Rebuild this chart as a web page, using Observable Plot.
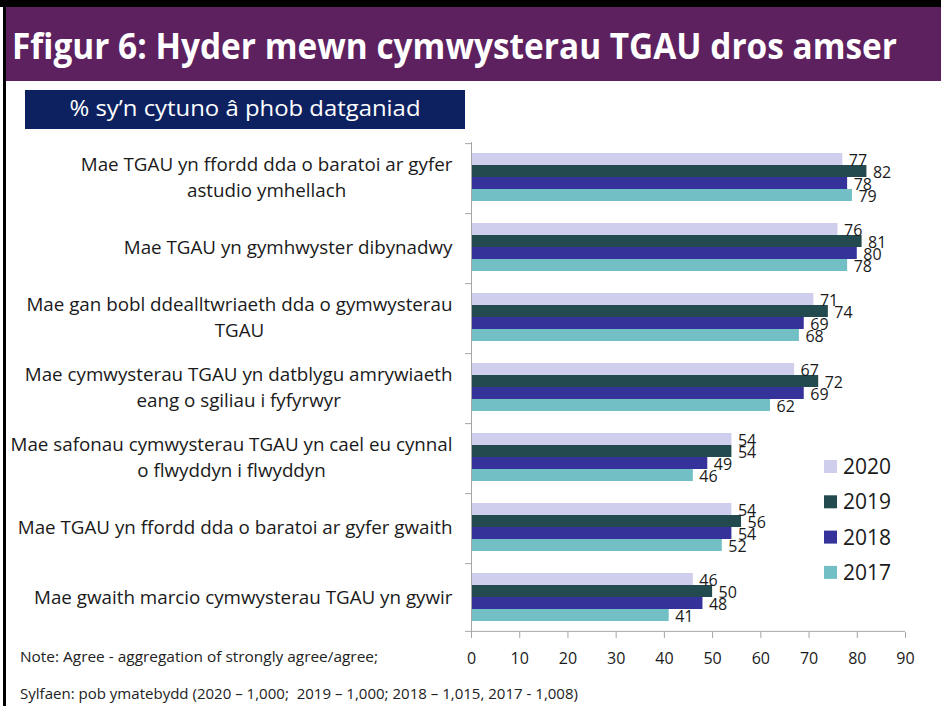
<!DOCTYPE html>
<html>
<head>
<meta charset="utf-8">
<script src="https://cdn.jsdelivr.net/npm/d3@7"></script>
<script src="https://cdn.jsdelivr.net/npm/@observablehq/plot@0.6"></script>
<style>
  html, body { margin: 0; padding: 0; background: #fff; }
  #page { position: relative; width: 941px; height: 706px; overflow: hidden; font-family: "Open Sans", sans-serif; }
  #chart { position: absolute; left: 0; top: 130px; }
  #overlay { position: absolute; left: 0; top: 0; pointer-events: none; }
  #overlay text { white-space: pre; }
</style>
</head>
<body>
<div id="page">
  <div id="chart"></div>
  <svg id="overlay" width="941" height="706"></svg>
</div>
<script>
// ---------- data ----------
const titleText = "Ffigur 6: Hyder mewn cymwysterau TGAU dros amser";
const subtitleText = "% sy’n cytuno â phob datganiad";
const noteText = "Note: Agree - aggregation of strongly agree/agree;";
const sourceText = "Sylfaen: pob ymatebydd (2020 – 1,000;  2019 – 1,000; 2018 – 1,015, 2017 - 1,008)";

const categories = [
  "Mae TGAU yn ffordd dda o baratoi ar gyfer\nastudio ymhellach",
  "Mae TGAU yn gymhwyster dibynadwy",
  "Mae gan bobl ddealltwriaeth dda o gymwysterau\nTGAU",
  "Mae cymwysterau TGAU yn datblygu amrywiaeth\neang o sgiliau i fyfyrwyr",
  "Mae safonau cymwysterau TGAU yn cael eu cynnal\no flwyddyn i flwyddyn",
  "Mae TGAU yn ffordd dda o baratoi ar gyfer gwaith",
  "Mae gwaith marcio cymwysterau TGAU yn gywir"
];
const years = ["2020", "2019", "2018", "2017"];
const values2020 = [77, 76, 71, 67, 54, 54, 46];
const values2019 = [82, 81, 74, 72, 54, 56, 50];
const values2018 = [78, 80, 69, 69, 49, 54, 48];
const values2017 = [79, 78, 68, 62, 46, 52, 41];
const xTicks = [0, 10, 20, 30, 40, 50, 60, 70, 80, 90];
const yearColors = ["#CFCFED", "#234B4F", "#35339A", "#72BFC5"];

// ---------- table ----------
const series = [values2020, values2019, values2018, values2017];
const rows = categories.flatMap((cat, i) =>
  years.map((year, j) => ({cat, year, value: series[j][i]}))
);

// ---------- layout ----------
const W = 941, H = 543;
const mTop = 10, mBottom = 40, mLeft = 471, mRight = 36;
const frameH = H - mTop - mBottom;
const facetH = frameH / categories.length;
const po = 0.73;
const step = facetH / (years.length + 2 * po);
const edge = step / 2 + po * step;
const gray = "#A6A6A6";
const ink = "#1a1a1a";
const FONT = "Open Sans";

// font sizing for category labels from canvas measurement
const ctx = document.createElement("canvas").getContext("2d");
ctx.font = `100px "${FONT}"`;
const refW = ctx.measureText("Mae TGAU yn ffordd dda o baratoi ar gyfer gwaith").width;
const labelFs = 435 * 100 / refW;
ctx.font = `${labelFs}px "${FONT}"`;

const labelMarks = categories.map(cat => {
  const maxW = Math.max(...cat.split("\n").map(s => ctx.measureText(s).width));
  return Plot.text([cat], {
    fy: d => d, text: d => d, frameAnchor: "left",
    textAnchor: "middle", dx: -(19 + maxW / 2), dy: -1.5,
    fontSize: labelFs, lineHeight: 25.5 / labelFs, fill: ink
  });
});

const chart = Plot.plot({
  width: W, height: H,
  marginTop: mTop, marginBottom: mBottom, marginLeft: mLeft, marginRight: mRight,
  style: {fontFamily: FONT, background: "transparent", overflow: "visible"},
  x: {domain: [0, 90]},
  y: {domain: years, paddingInner: 0, paddingOuter: po, axis: null},
  fy: {domain: categories, padding: 0, axis: null},
  color: {domain: years, range: yearColors},
  marks: [
    Plot.barX(rows, {x: "value", y: "year", fy: "cat", fill: "year"}),
    Plot.text(rows, {x: "value", y: "year", fy: "cat", text: d => String(d.value),
      textAnchor: "start", dx: 6, dy: 1.5, fontSize: 16, fill: ink}),
    Plot.ruleX([0], {stroke: gray}),
    Plot.ruleY(categories, {fy: d => d, y: () => years[0], x1: 0, x2: 0, insetLeft: -6, dy: -edge, stroke: gray}),
    Plot.ruleY([categories[categories.length - 1]], {fy: d => d, y: () => years[years.length - 1], x1: 0, x2: 90, insetLeft: -6, dy: edge, stroke: gray}),
    Plot.axisX({ticks: xTicks, tickSize: 6, tickPadding: 14, fontSize: 16, stroke: gray, fill: ink, label: null}),
    ...labelMarks
  ]
});
document.getElementById("chart").appendChild(chart);

// ---------- overlay: header, legend, notes ----------
const ov = d3.select("#overlay");
ov.append("rect").attr("x", 0).attr("y", 0).attr("width", 941).attr("height", 7).attr("fill", "#000");
ov.append("rect").attr("x", 3).attr("y", 0).attr("width", 3).attr("height", 706).attr("fill", "#000");
ov.append("rect").attr("x", 6).attr("y", 7).attr("width", 935).attr("height", 74).attr("fill", "#5E2160");

// title: size so natural width fits the band
ctx.font = `700 100px "${FONT}"`;
const titleFs = Math.min(37, 885 * 100 / ctx.measureText(titleText).width * 1.08);
ov.append("text").attr("x", 12).attr("y", 59)
  .attr("font-family", FONT).attr("font-weight", 700).attr("font-size", titleFs).attr("fill", "#fff")
  .attr("textLength", 885).attr("lengthAdjust", "spacingAndGlyphs").text(titleText);
ov.append("rect").attr("x", 25).attr("y", 90).attr("width", 440).attr("height", 39).attr("fill", "#0D2160");
ov.append("text").attr("x", 245).attr("y", 116).attr("text-anchor", "middle")
  .attr("font-family", FONT).attr("font-size", 22).attr("fill", "#fff")
  .attr("textLength", 351).attr("lengthAdjust", "spacingAndGlyphs").text(subtitleText);

years.forEach((y, i) => {
  const cy = 466.5 + i * 35.3;
  ov.append("rect").attr("x", 824).attr("y", cy - 6.5).attr("width", 13).attr("height", 13).attr("fill", yearColors[i]);
  ov.append("text").attr("x", 843).attr("y", cy + 7.5).attr("font-family", FONT).attr("font-size", 21)
    .attr("fill", ink).text(y);
});

ov.append("text").attr("x", 20).attr("y", 662).attr("font-family", FONT).attr("font-size", 14)
  .attr("fill", "#222").attr("textLength", 358).attr("lengthAdjust", "spacingAndGlyphs").text(noteText);
ov.append("text").attr("x", 20).attr("y", 699).attr("font-family", FONT).attr("font-size", 14)
  .attr("fill", "#222").attr("textLength", 558).attr("lengthAdjust", "spacingAndGlyphs").text(sourceText);
</script>
</body>
</html>
